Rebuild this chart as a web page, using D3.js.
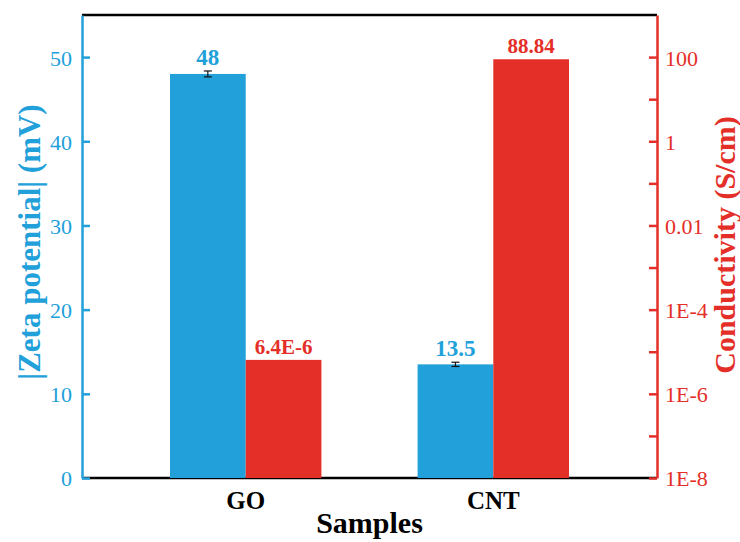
<!DOCTYPE html>
<html>
<head>
<meta charset="utf-8">
<script src="https://cdn.jsdelivr.net/npm/d3@7"></script>
<style>
  html, body { margin: 0; padding: 0; background: #fff; }
  svg { display: block; font-family: "Liberation Serif", "Times New Roman", serif; }
</style>
</head>
<body>
<svg id="chart" width="740" height="542"></svg>
<script>
// Samples and measured properties
const samples = ["GO", "CNT"];
const zetaValues = [48, 13.5];          // |Zeta potential| (mV)
const zetaErrors = [0.35, 0.25];
const conductivityValues = [6.4e-6, 88.84]; // S/cm
const conductivityLabels = ["6.4E-6", "88.84"];
const zetaTicks = [0, 10, 20, 30, 40, 50];
const condMajorTicks = [1e-8, 1e-6, 1e-4, 1e-2, 1, 100];
const condMinorTicks = [1e-7, 1e-5, 1e-3, 1e-1, 10];
const condTickLabels = ["1E-8", "1E-6", "1E-4", "0.01", "1", "100"];

const blue = "#21A0DA";
const red = "#E42F28";
const serif = "Liberation Serif, Times New Roman, serif";

const svg = d3.select("#chart");
const plotLeft = 82, plotRight = 657, plotTop = 15, plotBottom = 478;

const x = d3.scaleBand().domain(samples).range([plotLeft, plotRight])
  .paddingInner(0.3885).paddingOuter(0.3554);
const inner = d3.scaleBand().domain(["zeta", "cond"]).range([0, x.bandwidth()]);
const yL = d3.scaleLinear().domain([0, 55]).range([plotBottom, plotTop]);
const yR = d3.scaleLog().domain([1e-8, 1e3]).range([plotBottom, plotTop]);

// frame: black top and bottom lines
svg.append("line").attr("x1", plotLeft).attr("x2", plotRight).attr("y1", plotTop).attr("y2", plotTop)
  .attr("stroke", "#000").attr("stroke-width", 2.5);
svg.append("line").attr("x1", plotLeft).attr("x2", plotRight).attr("y1", plotBottom).attr("y2", plotBottom)
  .attr("stroke", "#000").attr("stroke-width", 2.5);

// bars
const g = svg.append("g");
samples.forEach((s, i) => {
  g.append("rect")
    .attr("x", x(s) + inner("zeta"))
    .attr("y", yL(zetaValues[i]))
    .attr("width", inner.bandwidth())
    .attr("height", yL(0) - yL(zetaValues[i]))
    .attr("fill", blue);
  g.append("rect")
    .attr("x", x(s) + inner("cond"))
    .attr("y", yR(conductivityValues[i]))
    .attr("width", inner.bandwidth())
    .attr("height", yR(1e-8) - yR(conductivityValues[i]))
    .attr("fill", red);
});

// error bars on zeta potential
samples.forEach((s, i) => {
  const cx = x(s) + inner("zeta") + inner.bandwidth() / 2;
  const y1 = yL(zetaValues[i] + zetaErrors[i]);
  const y2 = yL(zetaValues[i] - zetaErrors[i]);
  const eb = g.append("g").attr("stroke", "#111").attr("stroke-width", 1.2);
  eb.append("line").attr("x1", cx).attr("x2", cx).attr("y1", y1).attr("y2", y2);
  eb.append("line").attr("x1", cx - 4).attr("x2", cx + 4).attr("y1", y1).attr("y2", y1);
  eb.append("line").attr("x1", cx - 4).attr("x2", cx + 4).attr("y1", y2).attr("y2", y2);
});

// value labels
samples.forEach((s, i) => {
  g.append("text")
    .attr("x", x(s) + inner("zeta") + inner.bandwidth() / 2)
    .attr("y", yL(zetaValues[i] + zetaErrors[i]) - 6)
    .attr("text-anchor", "middle").attr("font-weight", "bold")
    .attr("font-family", serif).attr("font-size", 23).attr("fill", blue)
    .text(zetaValues[i]);
  g.append("text")
    .attr("x", x(s) + inner("cond") + inner.bandwidth() / 2)
    .attr("y", yR(conductivityValues[i]) - 6)
    .attr("text-anchor", "middle").attr("font-weight", "bold")
    .attr("font-family", serif).attr("font-size", 21).attr("fill", red)
    .text(conductivityLabels[i]);
});

// left axis
const axL = svg.append("g").attr("transform", `translate(${plotLeft},0)`)
  .call(d3.axisLeft(yL).tickValues(zetaTicks).tickSizeInner(-8).tickSizeOuter(0).tickPadding(10));
axL.select(".domain").attr("stroke", blue).attr("stroke-width", 2.5);
axL.selectAll(".tick line").attr("stroke", blue).attr("stroke-width", 2.5);
axL.selectAll(".tick text").attr("fill", blue).attr("font-size", 22)
  .attr("font-family", serif).attr("dy", "0.36em");

// right axis (log)
const axR = svg.append("g").attr("transform", `translate(${plotRight},0)`)
  .call(d3.axisRight(yR).tickValues(condMajorTicks)
    .tickFormat((d, i) => condTickLabels[i]).tickSizeInner(-8).tickSizeOuter(0).tickPadding(8));
axR.select(".domain").attr("stroke", red).attr("stroke-width", 2.5);
axR.selectAll(".tick line").attr("stroke", red).attr("stroke-width", 2.5);
axR.selectAll(".tick text").attr("fill", red).attr("font-size", 22)
  .attr("font-family", serif).attr("dy", "0.36em");
const axRMinor = svg.append("g").attr("transform", `translate(${plotRight},0)`)
  .call(d3.axisRight(yR).tickValues(condMinorTicks).tickFormat("").tickSizeInner(-8).tickSizeOuter(0));
axRMinor.select(".domain").remove();
axRMinor.selectAll(".tick line").attr("stroke", red).attr("stroke-width", 2.5);

// category labels
const axB = svg.append("g").attr("transform", `translate(0,${plotBottom})`)
  .call(d3.axisBottom(x).tickSize(0).tickPadding(13));
axB.select(".domain").remove();
axB.selectAll(".tick text").attr("fill", "#000").attr("font-size", 25)
  .attr("font-weight", "bold").attr("font-family", serif);

// axis titles
svg.append("text").attr("x", (plotLeft + plotRight) / 2).attr("y", 533)
  .attr("text-anchor", "middle").attr("font-weight", "bold").attr("font-size", 30)
  .attr("font-family", serif).attr("fill", "#000").text("Samples");
svg.append("text")
  .attr("transform", `translate(40,242) rotate(-90)`)
  .attr("text-anchor", "middle").attr("font-weight", "bold").attr("font-size", 31)
  .attr("font-family", serif).attr("fill", blue).text("|Zeta potential| (mV)");
svg.append("text")
  .attr("transform", `translate(735,245) rotate(-90)`)
  .attr("text-anchor", "middle").attr("font-weight", "bold").attr("font-size", 30)
  .attr("font-family", serif).attr("fill", red).text("Conductivity (S/cm)");
</script>
</body>
</html>
